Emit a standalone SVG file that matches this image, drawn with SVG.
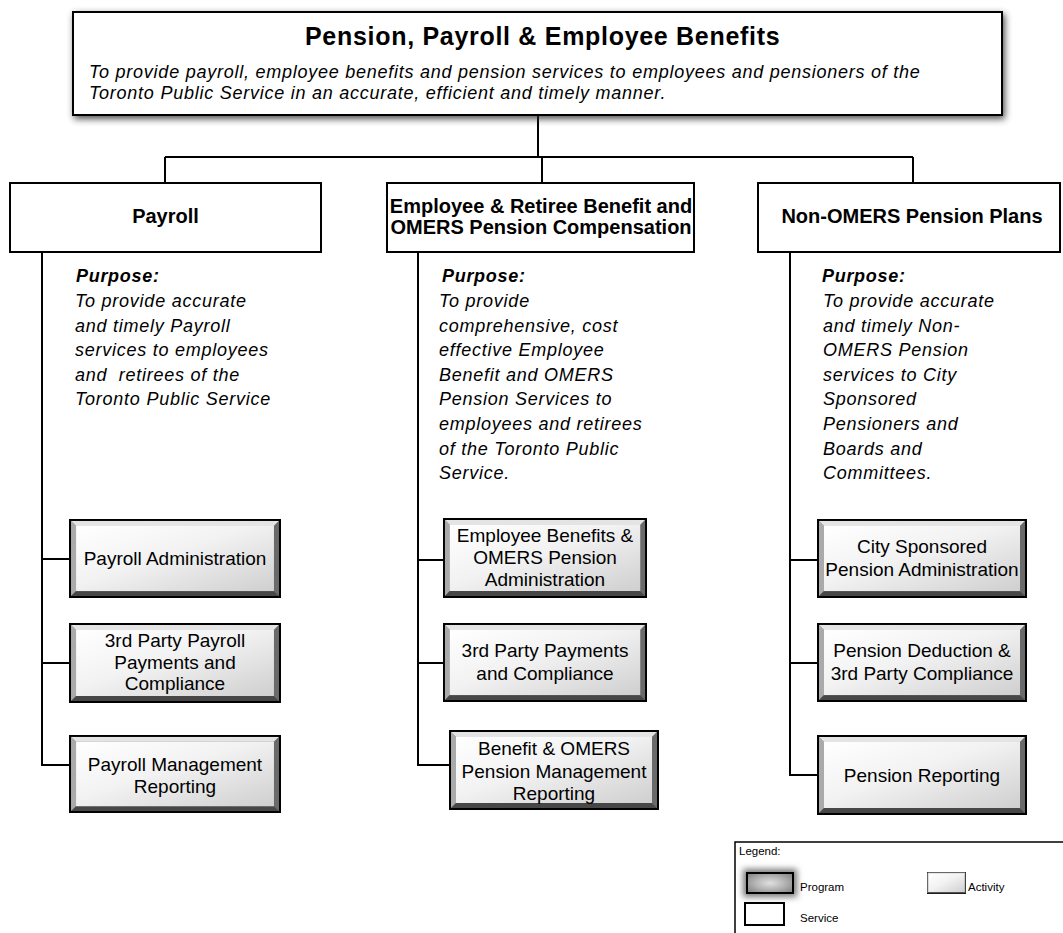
<svg xmlns="http://www.w3.org/2000/svg" xmlns:xlink="http://www.w3.org/1999/xlink" width="1063" height="933" viewBox="0 0 1063 933">
  <style>
    text { font-family: "Liberation Sans", Arial, sans-serif; fill: #000; }
    .title { font-size: 25px; font-weight: bold; letter-spacing: 0.7px; }
    .sub { font-size: 18px; font-style: italic; letter-spacing: 0.75px; }
    .svc { font-size: 20px; font-weight: bold; text-anchor: middle; }
    .ph { font-size: 18px; font-weight: bold; font-style: italic; letter-spacing: 0.7px; }
    .pt { font-size: 18px; font-style: italic; letter-spacing: 0.75px; white-space: pre; }
    .act { font-size: 19px; text-anchor: middle; }
    .leg { font-size: 11.5px; }
    .box { fill: #fff; stroke: #000; stroke-width: 2; }
    .wire { fill: none; stroke: #000; stroke-width: 2; }
  </style>
  <defs>
    <linearGradient id="face" x1="0" y1="0" x2="1" y2="1">
      <stop offset="0" stop-color="#ffffff"/>
      <stop offset="0.45" stop-color="#f2f2f2"/>
      <stop offset="1" stop-color="#cfcfcf"/>
    </linearGradient>
    <radialGradient id="progFace" cx="0.5" cy="0.5" r="0.6">
      <stop offset="0" stop-color="#e0e0e0"/>
      <stop offset="0.5" stop-color="#b8b8b8"/>
      <stop offset="1" stop-color="#8a8a8a"/>
    </radialGradient>
    <filter id="soft" x="-20%" y="-40%" width="140%" height="180%">
      <feGaussianBlur stdDeviation="3.5"/>
    </filter>
    <filter id="glow" x="-50%" y="-80%" width="200%" height="260%">
      <feGaussianBlur stdDeviation="3"/>
    </filter>
    <!-- bevelled activity button -->
    <symbol id="activity" viewBox="0 0 210 80" preserveAspectRatio="none">
      <rect x="0" y="0" width="210" height="80" fill="#888"/>
      <polygon points="0,0 210,0 203,7 7,7" fill="#e4e4e4"/>
      <polygon points="0,0 7,7 7,73 0,80" fill="#aaaaaa"/>
      <polygon points="210,0 210,80 203,73 203,7" fill="#6a6a6a"/>
      <polygon points="0,80 210,80 203,73 7,73" fill="#474747"/>
      <rect x="7" y="7" width="196" height="66" fill="url(#face)"/>
      <rect x="1" y="1" width="208" height="78" fill="none" stroke="#000" stroke-width="2"/>
    </symbol>
  </defs>

  <rect width="1063" height="933" fill="#fff"/>

  <!-- connectors -->
  <g id="connectors" class="wire">
    <path d="M538,115 V157"/>
    <path d="M165,157 H913"/>
    <path d="M165,157 V183"/>
    <path d="M542,157 V183"/>
    <path d="M913,157 V183"/>
    <!-- payroll branch -->
    <path d="M42,252 V765 H69"/>
    <path d="M42,559 H69"/>
    <path d="M42,663 H69"/>
    <!-- employee benefit branch -->
    <path d="M418,252 V765 H449"/>
    <path d="M418,560 H443"/>
    <path d="M418,663 H443"/>
    <!-- non-OMERS branch -->
    <path d="M790,252 V775 H817"/>
    <path d="M790,560 H817"/>
    <path d="M790,663 H817"/>
  </g>

  <!-- program -->
  <g id="program">
    <rect x="74" y="14" width="931" height="105" fill="#333" opacity="0.85" filter="url(#soft)"/>
    <rect x="73" y="12" width="929" height="103" class="box"/>
    <text x="305" y="45" class="title">Pension, Payroll &amp; Employee Benefits</text>
    <text x="89" y="78" class="sub">To provide payroll, employee benefits and pension services to employees and pensioners of the</text>
    <text x="89" y="99" class="sub">Toronto Public Service in an accurate, efficient and timely manner.</text>
  </g>

  <!-- services -->
  <g id="svc-payroll">
    <rect x="10" y="183" width="311" height="69" class="box"/>
    <text x="165.5" y="223" class="svc">Payroll</text>
    <text x="76" y="282" class="ph">Purpose:</text>
    <text class="pt">
      <tspan x="75" y="307">To provide accurate</tspan>
      <tspan x="75" y="331.6">and timely Payroll</tspan>
      <tspan x="75" y="356.2">services to employees</tspan>
      <tspan x="75" y="380.8">and  retirees of the</tspan>
      <tspan x="75" y="405.4">Toronto Public Service</tspan>
    </text>
  </g>

  <g id="svc-benefits">
    <rect x="387" y="183" width="307" height="69" class="box"/>
    <text x="541" y="213" class="svc">Employee &amp; Retiree Benefit and</text>
    <text x="541" y="234" class="svc">OMERS Pension Compensation</text>
    <text x="442" y="282" class="ph">Purpose:</text>
    <text class="pt">
      <tspan x="439" y="307">To provide</tspan>
      <tspan x="439" y="331.6">comprehensive, cost</tspan>
      <tspan x="439" y="356.2">effective Employee</tspan>
      <tspan x="439" y="380.8">Benefit and OMERS</tspan>
      <tspan x="439" y="405.4">Pension Services to</tspan>
      <tspan x="439" y="430">employees and retirees</tspan>
      <tspan x="439" y="454.6">of the Toronto Public</tspan>
      <tspan x="439" y="479.2">Service.</tspan>
    </text>
  </g>

  <g id="svc-nonomers">
    <rect x="758" y="183" width="302" height="69" class="box"/>
    <text x="912" y="223" class="svc">Non-OMERS Pension Plans</text>
    <text x="822" y="282" class="ph">Purpose:</text>
    <text class="pt">
      <tspan x="823" y="307">To provide accurate</tspan>
      <tspan x="823" y="331.6">and timely Non-</tspan>
      <tspan x="823" y="356.2">OMERS Pension</tspan>
      <tspan x="823" y="380.8">services to City</tspan>
      <tspan x="823" y="405.4">Sponsored</tspan>
      <tspan x="823" y="430">Pensioners and</tspan>
      <tspan x="823" y="454.6">Boards and</tspan>
      <tspan x="823" y="479.2">Committees.</tspan>
    </text>
  </g>

  <!-- activities: payroll -->
  <g id="act-payroll-admin">
    <use xlink:href="#activity" x="69" y="519" width="212" height="79"/>
    <text x="175" y="565" class="act">Payroll Administration</text>
  </g>
  <g id="act-payroll-3rd">
    <use xlink:href="#activity" x="69" y="623" width="212" height="80"/>
    <text x="175" y="647" class="act">3rd Party Payroll</text>
    <text x="175" y="669" class="act">Payments and</text>
    <text x="175" y="690" class="act">Compliance</text>
  </g>
  <g id="act-payroll-report">
    <use xlink:href="#activity" x="69" y="735" width="212" height="78"/>
    <text x="175" y="771" class="act">Payroll Management</text>
    <text x="175" y="793" class="act">Reporting</text>
  </g>

  <!-- activities: employee benefits -->
  <g id="act-benefit-admin">
    <use xlink:href="#activity" x="443" y="518" width="204" height="80"/>
    <text x="545" y="542" class="act">Employee Benefits &amp;</text>
    <text x="545" y="564" class="act">OMERS Pension</text>
    <text x="545" y="586" class="act">Administration</text>
  </g>
  <g id="act-benefit-3rd">
    <use xlink:href="#activity" x="443" y="623" width="204" height="79"/>
    <text x="545" y="657" class="act">3rd Party Payments</text>
    <text x="545" y="680" class="act">and Compliance</text>
  </g>
  <g id="act-benefit-report">
    <use xlink:href="#activity" x="449" y="730" width="210" height="80"/>
    <text x="554" y="755" class="act">Benefit &amp; OMERS</text>
    <text x="554" y="778" class="act">Pension Management</text>
    <text x="554" y="800" class="act">Reporting</text>
  </g>

  <!-- activities: non-OMERS -->
  <g id="act-pension-admin">
    <use xlink:href="#activity" x="817" y="519" width="210" height="79"/>
    <text x="922" y="553" class="act">City Sponsored</text>
    <text x="922" y="576" class="act">Pension Administration</text>
  </g>
  <g id="act-pension-deduction">
    <use xlink:href="#activity" x="817" y="623" width="210" height="79"/>
    <text x="922" y="657" class="act">Pension Deduction &amp;</text>
    <text x="922" y="680" class="act">3rd Party Compliance</text>
  </g>
  <g id="act-pension-report">
    <use xlink:href="#activity" x="817" y="735" width="210" height="80"/>
    <text x="922" y="782" class="act">Pension Reporting</text>
  </g>

  <!-- legend -->
  <g id="legend">
    <path d="M735,933 V842 H1063" fill="none" stroke="#000" stroke-width="1.5"/>
    <text x="739" y="855" class="leg">Legend:</text>
    <rect x="743" y="869" width="54" height="28" fill="#777" filter="url(#glow)"/>
    <rect x="747" y="873" width="46" height="20" fill="url(#progFace)" stroke="#000" stroke-width="2"/>
    <text x="800" y="891" class="leg">Program</text>
    <use xlink:href="#activity" x="927" y="872" width="39" height="22"/>
    <text x="968" y="891" class="leg">Activity</text>
    <rect x="745" y="903" width="39" height="22" class="box"/>
    <text x="800" y="922" class="leg">Service</text>
  </g>
</svg>
